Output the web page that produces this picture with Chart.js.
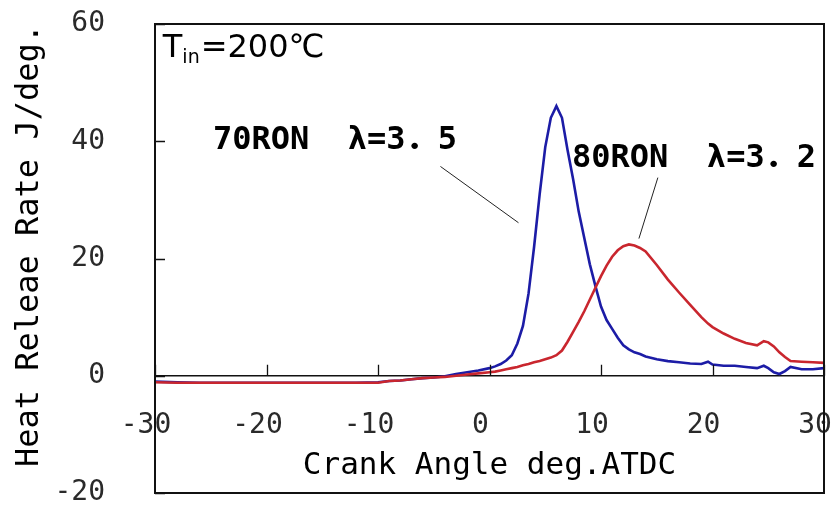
<!DOCTYPE html>
<html>
<head>
<meta charset="utf-8">
<script src="https://cdn.jsdelivr.net/npm/chart.js@4.4.1/dist/chart.umd.min.js"></script>
<style>
  html, body { margin: 0; padding: 0; background: #fff; }
  .chart-box { width: 832px; height: 509px; }
</style>
</head>
<body>
<div class="chart-box"><canvas id="hrr"></canvas></div>
<script>
// crank angle, deg ATDC
const crankAngle = [-30, -28, -26, -24, -22, -20, -18, -16, -14, -12,
  -10, -9, -8, -7, -6, -5, -4, -3, -2, -1,
  0, 0.5, 1, 1.5, 2, 2.5, 3, 3.5, 4, 4.5,
  5, 5.5, 6, 6.5, 7, 7.5, 8, 8.5, 9, 9.5,
  10, 10.5, 11, 11.5, 12, 12.5, 13, 13.5, 14, 15,
  16, 17, 18, 19, 19.6, 20, 21, 22, 23, 24,
  24.6, 25, 25.5, 26, 26.5, 27, 28, 29, 30];

// heat release rate, J/deg
const hrr70 = [-1.0, -1.1, -1.2, -1.2, -1.2, -1.2, -1.2, -1.2, -1.2, -1.2,
  -1.1, -0.9, -0.8, -0.6, -0.4, -0.3, -0.1, 0.3, 0.6, 0.9,
  1.3, 1.6, 2.0, 2.6, 3.5, 5.5, 8.5, 14.0, 22.0, 31.0,
  39.0, 44.0, 46.0, 44.0, 38.5, 33.5, 28.0, 23.5, 19.0, 15.3,
  11.8, 9.5, 8.0, 6.5, 5.2, 4.5, 4.0, 3.7, 3.3, 2.8,
  2.5, 2.3, 2.1, 2.0, 2.4, 1.9, 1.7, 1.7, 1.5, 1.3,
  1.7, 1.3, 0.6, 0.3, 0.8, 1.5, 1.1, 1.1, 1.3];

const hrr80 = [-1.1, -1.2, -1.2, -1.2, -1.2, -1.2, -1.2, -1.2, -1.2, -1.2,
  -1.2, -0.9, -0.8, -0.6, -0.4, -0.3, -0.2, 0.0, 0.2, 0.4,
  0.6, 0.7, 0.9, 1.1, 1.3, 1.5, 1.8, 2.0, 2.3, 2.5,
  2.8, 3.1, 3.5, 4.3, 5.8, 7.5, 9.2, 11.0, 13.0, 15.0,
  17.0, 18.8, 20.3, 21.4, 22.1, 22.4, 22.2, 21.8, 21.2, 18.9,
  16.4, 14.2, 12.1, 10.0, 8.9, 8.3, 7.2, 6.3, 5.6, 5.2,
  5.9, 5.7, 5.0, 4.0, 3.2, 2.5, 2.4, 2.3, 2.2];

const xTicks = [-30, -20, -10, 0, 10, 20, 30];
const yTicks = [-20, 0, 20, 40, 60];

const seriesLabels = ['70RON  λ=3．5', '80RON  λ=3．2'];
const conditionText = ['T', 'in', '=200℃'];

// label anchors and leader lines in axis units
const labelAt = [[-24.8, 38.6], [7.4, 35.6]];
const leaderFrom = [[-4.4, 35.7], [15.1, 33.8]];
const leaderTo = [[2.6, 26.1], [13.4, 23.4]];
const conditionAt = [-29.3, 54.4];

const toPoints = vals => crankAngle.map((a, i) => ({ x: a, y: vals[i] }));

const mono = 'DejaVu Sans Mono';

const annotate = {
  id: 'annotate',
  afterDraw(chart) {
    const { ctx, chartArea: area, scales: { x, y } } = chart;
    ctx.save();

    // short ticks pointing into the plot
    ctx.strokeStyle = '#111';
    ctx.lineWidth = 1.3;
    ctx.beginPath();
    const zero = y.getPixelForValue(0);
    x.ticks.forEach(t => {
      const px = Math.round(x.getPixelForValue(t.value)) + 0.5;
      ctx.moveTo(px, zero);
      ctx.lineTo(px, zero - 11);
    });
    y.ticks.forEach(t => {
      const py = Math.round(y.getPixelForValue(t.value)) + 0.5;
      ctx.moveTo(area.left, py);
      ctx.lineTo(area.left + 10, py);
    });
    ctx.stroke();

    // plot frame
    ctx.lineWidth = 2;
    ctx.strokeStyle = '#111';
    ctx.strokeRect(area.left, area.top, area.right - area.left, area.bottom - area.top);

    // leader lines
    ctx.lineWidth = 1;
    ctx.strokeStyle = '#222';
    ctx.beginPath();
    leaderFrom.forEach((p, i) => {
      ctx.moveTo(x.getPixelForValue(p[0]), y.getPixelForValue(p[1]));
      ctx.lineTo(x.getPixelForValue(leaderTo[i][0]), y.getPixelForValue(leaderTo[i][1]));
    });
    ctx.stroke();

    // series labels
    ctx.fillStyle = '#000';
    ctx.textBaseline = 'alphabetic';
    ctx.textAlign = 'left';
    ctx.font = 'bold 32px "' + mono + '", "Noto Sans CJK JP"';
    seriesLabels.forEach((s, i) => {
      ctx.fillText(s, x.getPixelForValue(labelAt[i][0]), y.getPixelForValue(labelAt[i][1]));
    });

    // intake temperature
    let cx = x.getPixelForValue(conditionAt[0]);
    const cy = y.getPixelForValue(conditionAt[1]);
    ctx.font = '32px "DejaVu Sans"';
    ctx.fillText(conditionText[0], cx, cy);
    cx += ctx.measureText(conditionText[0]).width;
    ctx.font = '19px "DejaVu Sans"';
    ctx.fillText(conditionText[1], cx, cy + 6);
    cx += ctx.measureText(conditionText[1]).width + 1;
    ctx.font = '32px "DejaVu Sans", "Noto Sans CJK JP"';
    ctx.fillText(conditionText[2], cx, cy);

    ctx.restore();
  }
};

new Chart(document.getElementById('hrr').getContext('2d'), {
  type: 'line',
  data: {
    datasets: [
      {
        label: '70RON',
        data: toPoints(hrr70),
        borderColor: '#1c1ca6',
        borderWidth: 2.6,
        pointRadius: 0,
        tension: 0,
        order: 1
      },
      {
        label: '80RON',
        data: toPoints(hrr80),
        borderColor: '#c9262e',
        borderWidth: 2.6,
        pointRadius: 0,
        tension: 0,
        order: 0
      }
    ]
  },
  options: {
    responsive: true,
    maintainAspectRatio: false,
    animation: false,
    layout: { padding: { top: 24, right: 8, bottom: 16, left: 0 } },
    plugins: { legend: { display: false }, tooltip: { enabled: false } },
    scales: {
      x: {
        type: 'linear',
        position: { y: 0 },
        min: -30,
        max: 30,
        afterBuildTicks: s => { s.ticks = xTicks.map(v => ({ value: v })); },
        afterFit: s => { s.paddingLeft = 0; s.paddingRight = 0; },
        grid: { display: false, drawTicks: false },
        border: { display: true, color: '#111', width: 1.5 },
        ticks: {
          font: { family: mono, size: 28 },
          color: '#2a2a2a',
          padding: 33,
          labelOffset: -9,
          maxRotation: 0
        },
        title: {
          display: true,
          text: 'Crank Angle deg.ATDC',
          font: { family: mono, size: 31 },
          color: '#000',
          padding: { top: -28, bottom: 0 }
        }
      },
      y: {
        position: 'left',
        min: -20,
        max: 60,
        afterBuildTicks: s => { s.ticks = yTicks.map(v => ({ value: v })); },
        afterFit: s => { s.width = 155; s.paddingTop = 0; s.paddingBottom = 0; },
        grid: { display: false, drawTicks: false },
        border: { display: false },
        ticks: {
          font: { family: mono, size: 28 },
          color: '#2a2a2a',
          padding: 50
        },
        title: {
          display: true,
          text: 'Heat Releae Rate J/deg.',
          align: 'end',
          font: { family: mono, size: 32 },
          color: '#000',
          padding: { top: 10, bottom: 0 }
        }
      }
    }
  },
  plugins: [annotate]
});
</script>
</body>
</html>
